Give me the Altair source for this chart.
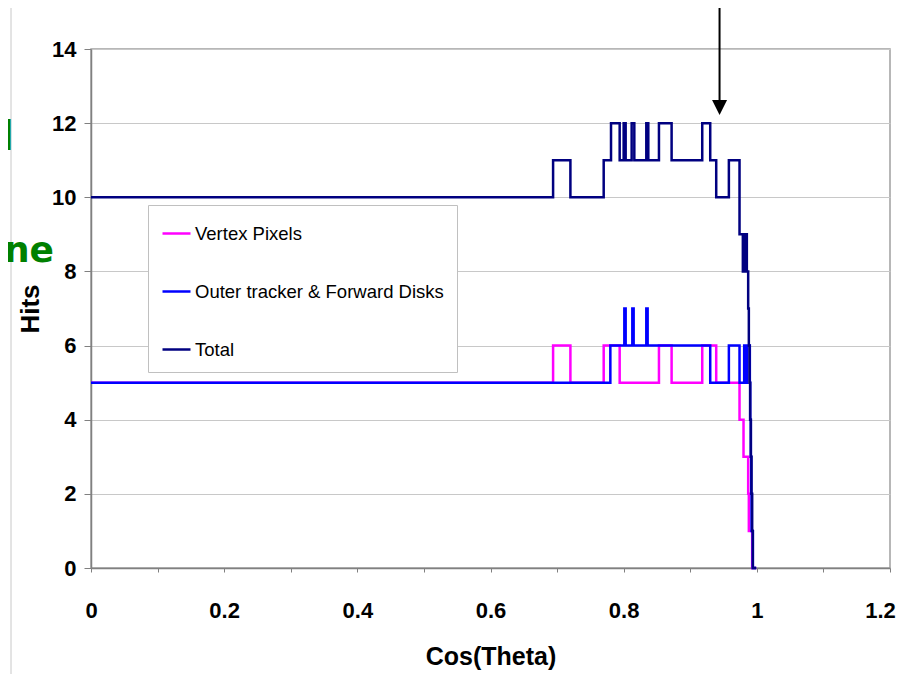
import altair as alt
import pandas as pd

# ---- data (step-after breakpoints) ----
series_names = ["Vertex Pixels", "Outer tracker & Forward Disks", "Total"]
series_colors = ["#FF00FF", "#0000FF", "#000080"]

vertex_x = [0, 0.694, 0.720, 0.770, 0.794, 0.853, 0.872, 0.918, 0.939, 0.974,
            0.980, 0.987, 0.988, 0.993, 0.999]
vertex_y = [5, 6, 5, 6, 5, 6, 5, 6, 5, 4,
            3, 2, 1, 0, 0]

outer_x = [0, 0.780, 0.801, 0.803, 0.813, 0.815, 0.834, 0.836, 0.930, 0.958,
           0.974, 0.981, 0.983, 0.985, 0.9895, 0.990, 0.991, 0.9915, 0.992,
           0.993, 0.994, 0.999]
outer_y = [5, 6, 7, 6, 7, 6, 7, 6, 5, 6,
           5, 6, 5, 6, 5, 4, 3, 2, 1,
           1, 0, 0]

total_x = [0, 0.694, 0.720, 0.770, 0.781, 0.794, 0.800, 0.803, 0.812, 0.816,
           0.834, 0.837, 0.853, 0.872, 0.918, 0.930, 0.939, 0.958, 0.974,
           0.979, 0.980, 0.981, 0.982, 0.983, 0.984, 0.985, 0.987, 0.988,
           0.989, 0.990, 0.991, 0.992, 0.993, 0.994, 0.999]
total_y = [10, 11, 10, 11, 12, 11, 12, 11, 12, 11,
           12, 11, 12, 11, 12, 11, 10, 11, 9,
           8, 9, 8, 9, 8, 9, 8, 7, 6,
           5, 4, 3, 2, 1, 0, 0]

x_tick_values = [round(i * 0.05, 2) for i in range(25)]
y_tick_values = [0, 2, 4, 6, 8, 10, 12, 14]

arrow_x = [0.944]
side_texts = ["d", "ne"]

rows = []
for name, xs, ys in zip(series_names, [vertex_x, outer_x, total_x],
                        [vertex_y, outer_y, total_y]):
    for xv, yv in zip(xs, ys):
        rows.append({"series": name, "cos": xv, "hits": yv})
df = pd.DataFrame(rows)

color_scale = alt.Scale(domain=series_names, range=series_colors)
FONT = "Liberation Sans"

x_enc = alt.X(
    "cos:Q",
    scale=alt.Scale(domain=[0, 1.2], nice=False),
    axis=alt.Axis(
        values=x_tick_values,
        format="~g",
        labelExpr="abs(datum.value*5 - round(datum.value*5)) < 0.001 ? datum.label : ''",
        labelOffset={"condition": {"test": "datum.value > 1.19", "value": -10}, "value": 0},
        title="Cos(Theta)",
        grid=False,
        tickSize=4,
        labelPadding=28,
        labelFont=FONT,
        labelFontSize=22,
        labelFontWeight="bold",
        labelColor="black",
        labelFlush=False,
        labelOverlap=False,
        labelBound=False,
        titleFont=FONT,
        titleFontSize=25,
        titleFontWeight="bold",
        titleColor="black",
        titleX=399.5,
        titleY=88,
        titleBaseline="middle",
        titleAlign="center",
    ),
)
y_enc = alt.Y(
    "hits:Q",
    scale=alt.Scale(domain=[0, 14], nice=False),
    axis=alt.Axis(
        values=y_tick_values,
        title="Hits",
        grid=True,
        gridColor="#c8c8c8",
        tickSize=7,
        labelPadding=8,
        labelFont=FONT,
        labelFontSize=22,
        labelFontWeight="bold",
        labelColor="black",
        titleFont=FONT,
        titleFontSize=26,
        titleFontWeight="bold",
        titleColor="black",
        titleX=-61,
        titleY=259.5,
        titleAngle=270,
        titleAlign="center",
        titleBaseline="middle",
    ),
)

legend = alt.Legend(
    title=None,
    orient="none",
    legendX=57,
    legendY=156,
    fillColor="white",
    strokeColor="#c0c0c0",
    padding=13,
    rowPadding=33,
    labelFont=FONT,
    labelFontSize=18.5,
    labelColor="black",
    labelOffset=3,
    labelLimit=0,
    symbolType="stroke",
    symbolSize=784,
    symbolStrokeWidth=2.5,
)

layers = []
for name in series_names:
    layers.append(
        alt.Chart(df)
        .transform_filter(alt.datum.series == name)
        .mark_line(interpolate="step-after", strokeWidth=2.5)
        .encode(
            x=x_enc,
            y=y_enc,
            color=alt.Color("series:N", scale=color_scale, legend=legend),
        )
    )

arrow_df = pd.DataFrame({"cos": arrow_x})
arrow_line = alt.Chart(arrow_df).mark_rule(color="black", strokeWidth=2).encode(
    x="cos:Q", y=alt.value(-41), y2=alt.value(53)
)
arrow_head = alt.Chart(arrow_df).mark_point(
    shape="M-1,-1L1,-1L0,1Z", size=225, filled=True, color="black", opacity=1
).encode(x="cos:Q", y=alt.value(58.5))

divider = alt.Chart(arrow_df).mark_rule(color="#c8c8c8", strokeWidth=1).encode(
    x=alt.value(-80), y=alt.value(-41), y2=alt.value(640)
)
text_d = alt.Chart(pd.DataFrame({"t": [side_texts[0]]})).mark_text(
    font="DejaVu Sans", fontSize=40, fontWeight="bold", color="#008000",
    align="right", baseline="alphabetic"
).encode(text="t:N", x=alt.value(-77), y=alt.value(101))
text_ne = alt.Chart(pd.DataFrame({"t": [side_texts[1]]})).mark_text(
    font="DejaVu Sans", fontSize=36, fontWeight="bold", color="#008000",
    align="right", baseline="alphabetic"
).encode(text="t:N", x=alt.value(-37), y=alt.value(213))

chart = (
    alt.layer(*layers, arrow_line, arrow_head, divider, text_d, text_ne)
    .properties(
        width=799,
        height=519,
        autosize=alt.AutoSizeParams(type="none"),
        padding={"left": 83, "top": 41, "right": 8, "bottom": 106},
        background="white",
    )
    .configure_view(stroke="#a0a0a0", strokeWidth=1.5)
    .configure_axis(domainColor="#808080", tickColor="#808080", domainWidth=1.5)
)

chart.save("out.html", embed_options={"renderer": "svg", "actions": False})
